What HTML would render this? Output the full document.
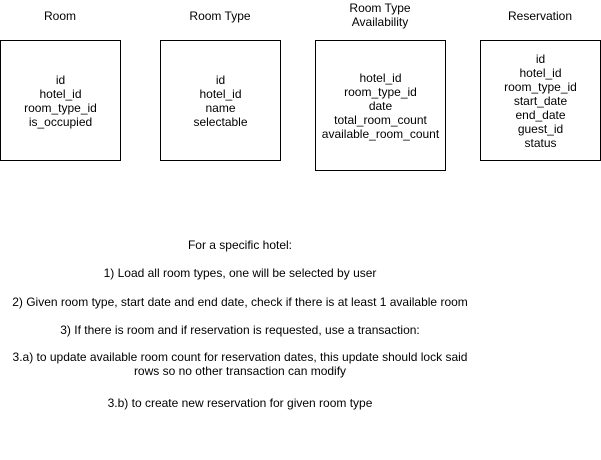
<!DOCTYPE html>
<html><head><style>
body{margin:0;width:601px;height:460px;background:#fff;position:relative;font-family:"Liberation Sans",Arial,sans-serif;font-size:12px;color:#000;overflow:hidden}
.b{position:absolute;border:1px solid #000;box-sizing:border-box;display:flex;align-items:center;justify-content:center;text-align:center;line-height:14px}
.t{position:absolute;text-align:center;line-height:14px;white-space:nowrap}
.c{position:absolute;left:0;width:480px;text-align:center;white-space:nowrap;line-height:14px}
</style></head><body>
<div class="t" style="left:0;width:120px;top:9px">Room</div>
<div class="t" style="left:160px;width:120px;top:9px">Room Type</div>
<div class="t" style="left:315px;width:130px;top:1px">Room Type<br>Availability</div>
<div class="t" style="left:480px;width:120px;top:9px">Reservation</div>
<div class="b" style="left:0;top:40px;width:121px;height:121px">id<br>hotel_id<br>room_type_id<br>is_occupied</div>
<div class="b" style="left:160px;top:40px;width:121px;height:121px">id<br>hotel_id<br>name<br>selectable</div>
<div class="b" style="left:315px;top:40px;width:131px;height:131px">hotel_id<br>room_type_id<br>date<br>total_room_count<br>available_room_count</div>
<div class="b" style="left:480px;top:40px;width:121px;height:121px">id<br>hotel_id<br>room_type_id<br>start_date<br>end_date<br>guest_id<br>status</div>
<div class="c" style="top:238px">For a specific hotel:</div>
<div class="c" style="top:266px">1) Load all room types, one will be selected by user</div>
<div class="c" style="top:295px">2) Given room type, start date and end date, check if there is at least 1 available room</div>
<div class="c" style="top:323px">3) If there is room and if reservation is requested, use a transaction:</div>
<div class="c" style="top:350px">3.a) to update available room count for reservation dates, this update should lock said</div>
<div class="c" style="top:364px">rows so no other transaction can modify</div>
<div class="c" style="top:396px">3.b) to create new reservation for given room type</div>
</body></html>
